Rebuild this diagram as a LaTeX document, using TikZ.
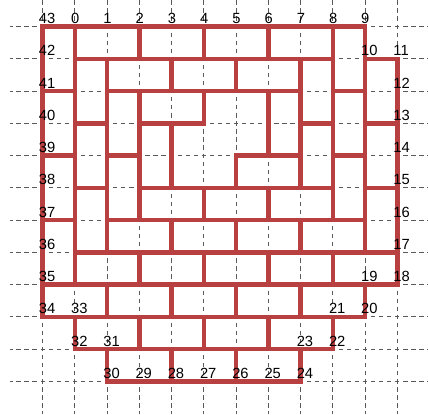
\documentclass[tikz,border=0pt]{standalone}
\usepackage{fontspec}
\setmainfont{Liberation Sans}
\usepackage{xcolor}
\usepackage{tikz}

\definecolor{wallred}{RGB}{184,64,64}

\begin{document}
\begin{tikzpicture}[
  x=1cm, y=-1cm,
  grid/.style={black!65, line width=0.9pt, dash pattern=on 3.8pt off 3.3132pt, dash phase=1.9pt},
  wall/.style={wallred, line width=3.9pt, line cap=rect, line join=miter},
  num/.style={anchor=base west, inner sep=0pt, font=\fontsize{13}{15}\selectfont, xshift=-3.6pt, yshift=2.6pt}
]
\useasboundingbox (-1.324,-0.828) rectangle (11.951,12.013);
\clip (-1.324,-0.828) rectangle (11.951,12.013);

\foreach \k in {0,...,11} {
  \draw[grid] (-1,\k) -- (12,\k);
  \draw[grid] (\k,-1) -- (\k,12);
}

% corners of the outline, numbered as printed
\foreach \n/\c/\r in {0/1/0, 1/2/0, 2/3/0, 3/4/0, 4/5/0, 5/6/0, 6/7/0, 7/8/0, 8/9/0, 9/10/0,
    10/10/1, 11/11/1, 12/11/2, 13/11/3, 14/11/4, 15/11/5, 16/11/6, 17/11/7, 18/11/8,
    19/10/8, 20/10/9, 21/9/9, 22/9/10, 23/8/10, 24/8/11, 25/7/11, 26/6/11, 27/5/11,
    28/4/11, 29/3/11, 30/2/11, 31/2/10, 32/1/10, 33/1/9, 34/0/9, 35/0/8, 36/0/7,
    37/0/6, 38/0/5, 39/0/4, 40/0/3, 41/0/2, 42/0/1, 43/0/0}
  \coordinate (v\n) at (\c,\r);

\draw[wall] (v0) \foreach \n in {1,...,43} { -- (v\n) } -- cycle;

% inner walls: row/from/to
\foreach \r/\a/\b in {1/1/9, 2/0/1, 2/2/8, 2/9/10, 3/1/2, 3/3/5, 3/8/9, 3/10/11,
    4/0/1, 4/2/3, 4/6/8, 4/9/10, 5/1/2, 5/3/9, 5/10/11, 6/0/1, 6/2/10,
    7/1/11, 8/0/11, 9/0/10, 10/1/9}
  \draw[wall] (\a,\r) -- (\b,\r);

% inner walls: column/from/to
\foreach \c/\a/\b in {1/0/8, 2/1/7, 2/8/9, 3/0/1, 3/2/6, 3/7/8, 3/9/10,
    4/1/2, 4/3/5, 4/6/7, 4/8/9, 4/10/11, 5/0/1, 5/2/3, 5/5/6, 5/7/8, 5/9/10,
    6/1/2, 6/4/5, 6/6/7, 6/8/9, 6/10/11, 7/0/1, 7/2/4, 7/5/6, 7/7/8, 7/9/10,
    8/1/5, 8/6/7, 8/8/9, 9/0/6, 9/7/8, 10/1/7}
  \draw[wall] (\c,\a) -- (\c,\b);

\foreach \n in {0,...,43}
  \node[num] (l\n) at (v\n) {\n};
\end{tikzpicture}
\end{document}
